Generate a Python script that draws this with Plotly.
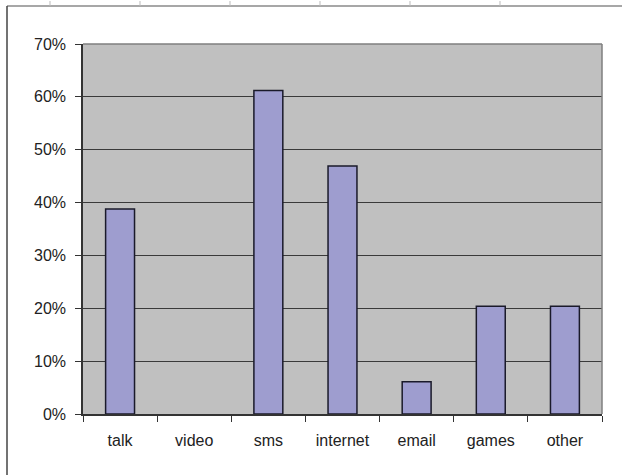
import plotly.graph_objects as go

categories = ["talk", "video", "sms", "internet", "email", "games", "other"]
values = [0.388, 0.0, 0.612, 0.469, 0.061, 0.204, 0.204]
y_ticks = [0, 0.1, 0.2, 0.3, 0.4, 0.5, 0.6, 0.7]
y_tick_labels = ["0%", "10%", "20%", "30%", "40%", "50%", "60%", "70%"]

W, H = 622, 475
L, R, T, B = 83, 20, 44, 61
pw, ph = W - L - R, H - T - B


def px(x):
    return (x - L) / pw


def py(y):
    return (H - B - y) / ph


fig = go.Figure()
fig.add_trace(go.Bar(
    x=categories, y=values,
    marker=dict(color="#9E9DCF",
                line=dict(color="#1a1a2a", width=[1.5 if v > 0 else 0 for v in values])),
))

shapes = [
    dict(type="line", xref="paper", yref="paper", x0=0, x1=1, y0=1, y1=1,
         line=dict(color="#7f7f7f", width=1.5)),
    dict(type="line", xref="paper", yref="paper", x0=1, x1=1, y0=0, y1=1,
         line=dict(color="#7f7f7f", width=1.5)),
    dict(type="line", xref="paper", yref="paper", x0=px(7), x1=1.2, y0=py(6), y1=py(6),
         line=dict(color="#8a8a8a", width=1.5)),
    dict(type="line", xref="paper", yref="paper", x0=px(7), x1=px(7), y0=py(6), y1=py(476),
         line=dict(color="#444444", width=1.5)),
]
for tx in [50, 140, 230, 320, 410, 500]:
    shapes.append(dict(type="line", xref="paper", yref="paper", x0=px(tx), x1=px(tx),
                       y0=py(6), y1=py(1), line=dict(color="#bbbbbb", width=1)))

fig.update_layout(
    width=W, height=H,
    margin=dict(l=L, r=R, t=T, b=B),
    paper_bgcolor="white",
    plot_bgcolor="#C0C0C0",
    bargap=0.61,
    showlegend=False,
    font=dict(family="Liberation Sans, Arial, sans-serif", size=16, color="#222222"),
    shapes=shapes,
    xaxis=dict(
        showline=True, linecolor="#333333", linewidth=1.5,
        ticks="outside", ticklen=6, tickcolor="#333333", tickson="boundaries",
        showgrid=False, tickfont=dict(size=16), ticklabelstandoff=11,
    ),
    yaxis=dict(
        range=[0, 0.7], tickvals=y_ticks, ticktext=y_tick_labels,
        showline=True, linecolor="#333333", linewidth=1.5,
        ticks="outside", ticklen=6, tickcolor="#333333",
        showgrid=True, gridcolor="#3a3a3a", gridwidth=1,
        zeroline=False, tickfont=dict(size=16), ticklabelstandoff=6,
    ),
)

fig.write_html("out.html")
